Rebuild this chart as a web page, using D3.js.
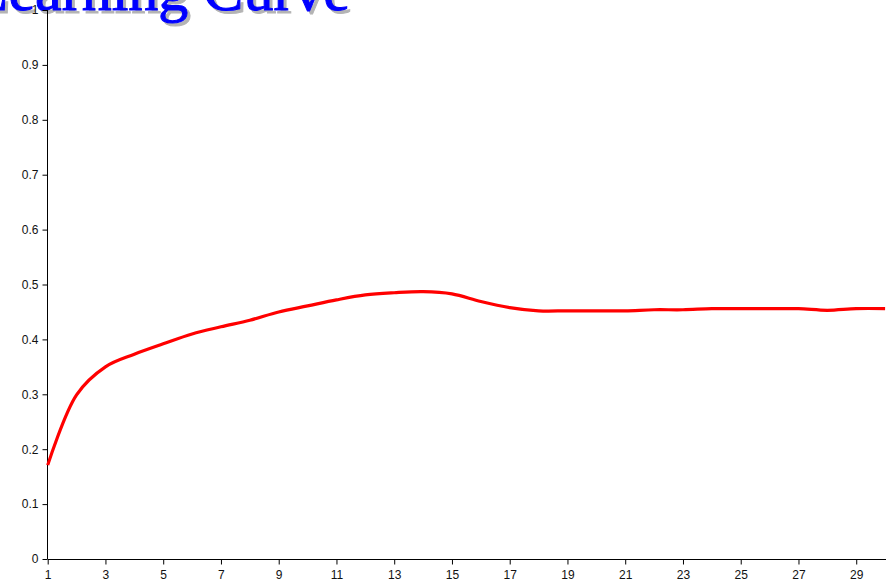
<!DOCTYPE html>
<html><head><meta charset="utf-8">
<script src="https://cdn.jsdelivr.net/npm/d3@7"></script>
<style>body{margin:0;background:#fff;} svg{display:block;}</style>
</head><body>
<svg id="chart" width="895" height="588"></svg>
<script>
const titleText = "Learning Curve";
const trials = d3.range(1, 31);
const scores = [0.171, 0.299, 0.350, 0.373, 0.392, 0.410, 0.423, 0.435, 0.450, 0.461,
                0.472, 0.481, 0.485, 0.487, 0.483, 0.469, 0.458, 0.452, 0.452, 0.452,
                0.452, 0.454, 0.454, 0.456, 0.456, 0.456, 0.456, 0.453, 0.456, 0.456];
const xTickValues = [1, 3, 5, 7, 9, 11, 13, 15, 17, 19, 21, 23, 25, 27, 29];
const yTickValues = [0, 0.1, 0.2, 0.3, 0.4, 0.5, 0.6, 0.7, 0.8, 0.9, 1];

const svg = d3.select("#chart");
const x = d3.scaleLinear().domain([1, 30]).range([47.7, 885.1]);
const y = d3.scaleLinear().domain([0, 1]).range([559, 10]);

// title (mostly cut off at top)
const tg = svg.append("g").attr("font-family", "'Liberation Serif', serif").attr("font-size", 60);
tg.append("text").attr("x", 353).attr("y", 12.5).attr("text-anchor", "end")
  .attr("fill", "#b4b4b4").attr("stroke", "#b4b4b4").attr("stroke-width", 1).text(titleText);
tg.append("text").attr("x", 350).attr("y", 10).attr("text-anchor", "end")
  .attr("fill", "#0000ff").attr("stroke", "#0000ff").attr("stroke-width", 1).text(titleText);

const yAxis = d3.axisLeft(y).tickValues(yTickValues).tickSize(5).tickPadding(4)
  .tickFormat(d => String(+d.toFixed(1)));
const gy = svg.append("g").attr("transform", "translate(47.5,0)").call(yAxis);
const xAxis = d3.axisBottom(x).tickValues(xTickValues).tickSize(5).tickPadding(6)
  .tickFormat(d3.format("d"));
const gx = svg.append("g").attr("transform", "translate(0,559.5)").call(xAxis);

[gx, gy].forEach(g => {
  g.select(".domain").attr("stroke", "#000").attr("stroke-width", 1);
  g.selectAll(".tick line").attr("stroke", "#000");
  g.selectAll("text").attr("font-family", "'Liberation Sans', Arial, sans-serif")
    .attr("font-size", 12).attr("fill", "#111");
});
gx.select(".domain").attr("d", `M${x(1)},0H886`);
gy.select(".domain").attr("d", `M0,${y(0)}V${y(1)}`);

const line = d3.line().x((d, i) => x(trials[i])).y(d => y(d)).curve(d3.curveCatmullRom.alpha(0.5));
svg.append("path").datum(scores).attr("d", line)
  .attr("fill", "none").attr("stroke", "#ff0000").attr("stroke-width", 3.2)
  .attr("stroke-linejoin", "round");
</script>
</body></html>
